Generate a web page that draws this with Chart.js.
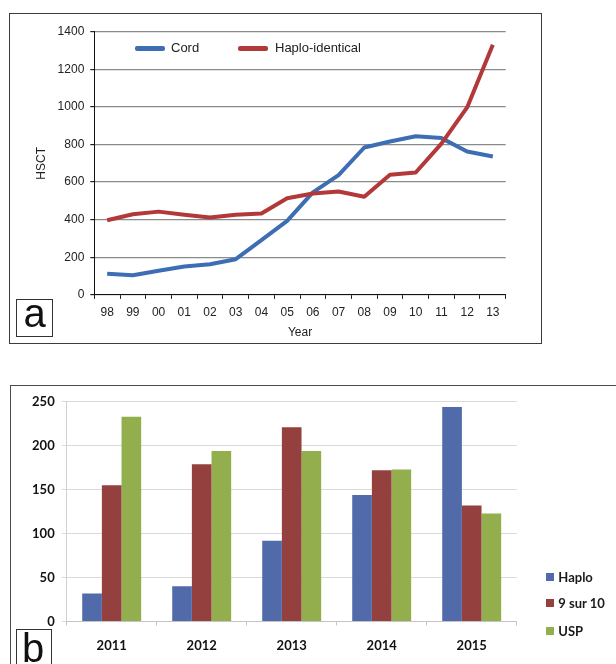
<!DOCTYPE html>
<html>
<head>
<meta charset="utf-8">
<script src="https://cdn.jsdelivr.net/npm/chart.js@4.4.1/dist/chart.umd.min.js"></script>
<style>
body{margin:0;width:616px;height:664px;overflow:hidden;background:#fff;position:relative;font-family:"Liberation Sans",Arial,sans-serif;color:#222;}
.abs{position:absolute;}
#frameA{left:9px;top:13px;width:533px;height:331px;border:1.5px solid #3c3c3c;box-sizing:border-box;}
#frameB{left:10px;top:385px;width:640px;height:320px;border:1.5px solid #4a4a4a;box-sizing:border-box;}
#chartA{left:10px;top:14px;}
#chartB{left:12px;top:387px;}
.tag{border:1px solid #333;box-sizing:border-box;background:#fff;}
.letter{font-size:40px;line-height:40px;color:#111;}
.swatch{height:4.5px;width:30px;border-radius:2px;}
.legA{font-size:13px;line-height:16px;color:#222;white-space:nowrap;}
.sq{width:8px;height:8px;}
.legB{font-family:Lato,sans-serif;font-weight:bold;font-size:13px;line-height:16px;color:#1a1a1a;white-space:nowrap;}
</style>
</head>
<body>
<div id="frameA" class="abs"></div>
<canvas id="chartA" class="abs" width="530" height="328"></canvas>
<div class="abs tag" style="left:15.7px;top:299px;width:37.6px;height:37.7px;"></div>
<div class="abs letter" style="left:23.4px;top:292.6px;">a</div>

<div class="abs swatch" style="left:135px;top:46px;background:#3d6eb4;"></div>
<div class="abs legA" style="left:171px;top:40.3px;">Cord</div>
<div class="abs swatch" style="left:238px;top:46px;background:#b2383a;"></div>
<div class="abs legA" style="left:275px;top:40.3px;">Haplo-identical</div>

<div id="frameB" class="abs"></div>
<canvas id="chartB" class="abs" width="604" height="277"></canvas>
<div class="abs tag" style="left:15.7px;top:629.3px;width:36.6px;height:50px;"></div>
<div class="abs letter" style="left:21.9px;top:627.6px;">b</div>

<div class="abs sq" style="left:546px;top:572.7px;background:#506aaa;"></div>
<div class="abs legB" style="left:558.3px;top:568.7px;">Haplo</div>
<div class="abs sq" style="left:546px;top:599.3px;background:#94403e;"></div>
<div class="abs legB" style="left:558.3px;top:595.3px;">9 sur 10</div>
<div class="abs sq" style="left:546px;top:626.7px;background:#93ae4c;"></div>
<div class="abs legB" style="left:558.3px;top:622.7px;">USP</div>

<script>
// panel a data
var years = ["98","99","00","01","02","03","04","05","06","07","08","09","10","11","12","13"];
var cordValues = [113,105,128,151,163,190,291,394,545,637,784,816,844,834,763,736];
var haploIdenticalValues = [397,429,443,426,412,426,433,514,539,550,522,639,651,805,997,1330];
var hsctTicks = [0,200,400,600,800,1000,1200,1400];

// panel b data
var barYears = ["2011","2012","2013","2014","2015"];
var haploValues = [32,40,92,144,244];
var nineOfTenValues = [155,179,221,172,132];
var uspValues = [233,194,194,173,123];

var sansFont = "'Liberation Sans', Arial, sans-serif";
var boldFont = "Lato, sans-serif";

Chart.defaults.animation = false;

new Chart(document.getElementById("chartA"), {
    type: "line",
    data: {
        labels: years,
        datasets: [{
            label: "Cord",
            data: cordValues,
            borderColor: "#3d6eb4",
            borderWidth: 4,
            pointRadius: 0,
            tension: 0,
            borderJoinStyle: "round",
            order: 1
        }, {
            label: "Haplo-identical",
            data: haploIdenticalValues,
            borderColor: "#b2383a",
            borderWidth: 4,
            pointRadius: 0,
            tension: 0,
            borderJoinStyle: "round",
            order: 0
        }]
    },
    options: {
        responsive: false,
        devicePixelRatio: 1,
        layout: {padding: {top: 17.7, right: 34.3, left: 0, bottom: 0}},
        plugins: {legend: {display: false}, tooltip: {enabled: false}},
        scales: {
            x: {
                offset: true,
                grid: {offset: true, drawOnChartArea: false, tickLength: 4, tickColor: "#222"},
                border: {color: "#111", width: 1},
                ticks: {color: "#222", font: {size: 12, family: sansFont}, padding: 7, maxRotation: 0, autoSkip: false},
                title: {display: true, text: "Year", color: "#222", font: {size: 12, family: sansFont}, padding: {top: 0, bottom: 2}},
                afterFit: function(s){ s.height = 47.1; }
            },
            y: {
                min: 0,
                max: 1400,
                afterBuildTicks: function(s){ s.ticks = hsctTicks.map(function(v){ return {value: v}; }); },
                grid: {color: "#8a8a8a", lineWidth: 1.2, tickLength: 4, tickColor: "#222"},
                border: {color: "#111", width: 1},
                ticks: {color: "#222", font: {size: 12, family: sansFont}, padding: 6,
                    callback: function(v){ return String(v); }},
                title: {display: true, text: "HSCT", color: "#222", font: {size: 12, family: sansFont}, padding: {top: 24, bottom: 0}},
                afterFit: function(s){ s.width = 84.3; }
            }
        }
    }
});

new Chart(document.getElementById("chartB"), {
    type: "bar",
    data: {
        labels: barYears,
        datasets: [{
            label: "Haplo",
            data: haploValues,
            backgroundColor: "#506aaa"
        }, {
            label: "9 sur 10",
            data: nineOfTenValues,
            backgroundColor: "#94403e"
        }, {
            label: "USP",
            data: uspValues,
            backgroundColor: "#93ae4c"
        }]
    },
    options: {
        responsive: false,
        devicePixelRatio: 1,
        layout: {padding: {top: 11.3, right: 99.3, left: 0, bottom: 0}},
        plugins: {legend: {display: false}, tooltip: {enabled: false}},
        datasets: {bar: {categoryPercentage: 0.655, barPercentage: 1.0}},
        scales: {
            x: {
                grid: {offset: true, drawOnChartArea: false, tickLength: 4, tickColor: "#c4c4c4"},
                border: {color: "#c4c4c4", width: 1},
                ticks: {color: "#111", font: {size: 13, family: boldFont, weight: "bold"}, padding: 13},
                afterFit: function(s){ s.height = 42.5; }
            },
            y: {
                min: 0,
                max: 250,
                ticks: {stepSize: 50, color: "#111", font: {size: 13, family: boldFont, weight: "bold"}, padding: 7},
                grid: {color: "#dadada", tickLength: 5, tickColor: "#dadada"},
                border: {color: "#d0d0d0", width: 1},
                afterFit: function(s){ s.width = 54.7; }
            }
        }
    }
});
</script>
</body>
</html>
